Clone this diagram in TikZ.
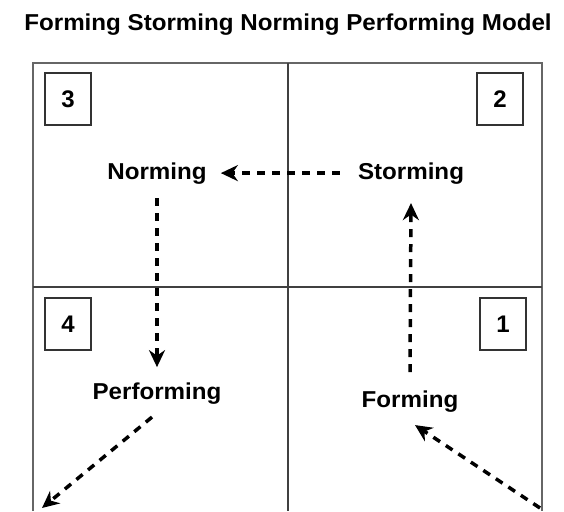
\documentclass[tikz,border=0pt]{standalone}
\usepackage{fontspec}
\setmainfont{Liberation Sans}
\usetikzlibrary{arrows.meta}

\tikzset{
  phase/.style={font=\bfseries\fontsize{23}{27}\selectfont, xscale=1.05, inner sep=0pt},
  numbox/.style={draw=black!80, line width=1.5pt, minimum width=46pt, minimum height=52pt,
    inner sep=0pt, font=\bfseries\fontsize{24}{28}\selectfont},
  flow/.style={line width=3.5pt, dash pattern=on 8pt off 7pt, -{Stealth[length=17pt,width=16pt]}}
}

\begin{document}
\begin{tikzpicture}[x=1pt,y=-1pt]

\useasboundingbox (0,0) rectangle (564,511);
\clip (0,0) rectangle (564,511);

\node[phase, anchor=base] (title) at (288,31) {Forming Storming Norming Performing Model};

% frame and quadrants
\draw[line width=2pt, black!60] (33,511) -- (33,63) -- (542,63) -- (542,511);
\draw[line width=1.5pt, black!75] (288,63) -- (288,511);
\draw[line width=1.5pt, black!75] (33,287) -- (542,287);

% numbered corners
\node[numbox] (n3) at (68,99) {3};
\node[numbox] (n2) at (500,99) {2};
\node[numbox] (n4) at (68,324) {4};
\node[numbox] (n1) at (503,324) {1};

% stages
\node[phase, anchor=base] (norming) at (157,179) {Norming};
\node[phase, anchor=base] (storming) at (411,179) {Storming};
\node[phase, anchor=base] (performing) at (157,399) {Performing};
\node[phase, anchor=base] (forming) at (410,407) {Forming};

\coordinate (exit) at (42,508);
\coordinate (entry) at (540,508);

\draw[flow] (entry) -- ([xshift=5pt,yshift=-13pt]forming.south);
\draw[flow] ([yshift=18pt]forming.north) -- ([yshift=-19pt]storming.south);
\draw[flow] ([xshift=-18pt]storming.west) -- ([xshift=14pt]norming.east);
\draw[flow] ([yshift=-14pt]norming.south) -- ([yshift=15pt]performing.north);
\draw[flow] ([xshift=-5pt,yshift=-13pt]performing.south) -- (exit);

\end{tikzpicture}
\end{document}
